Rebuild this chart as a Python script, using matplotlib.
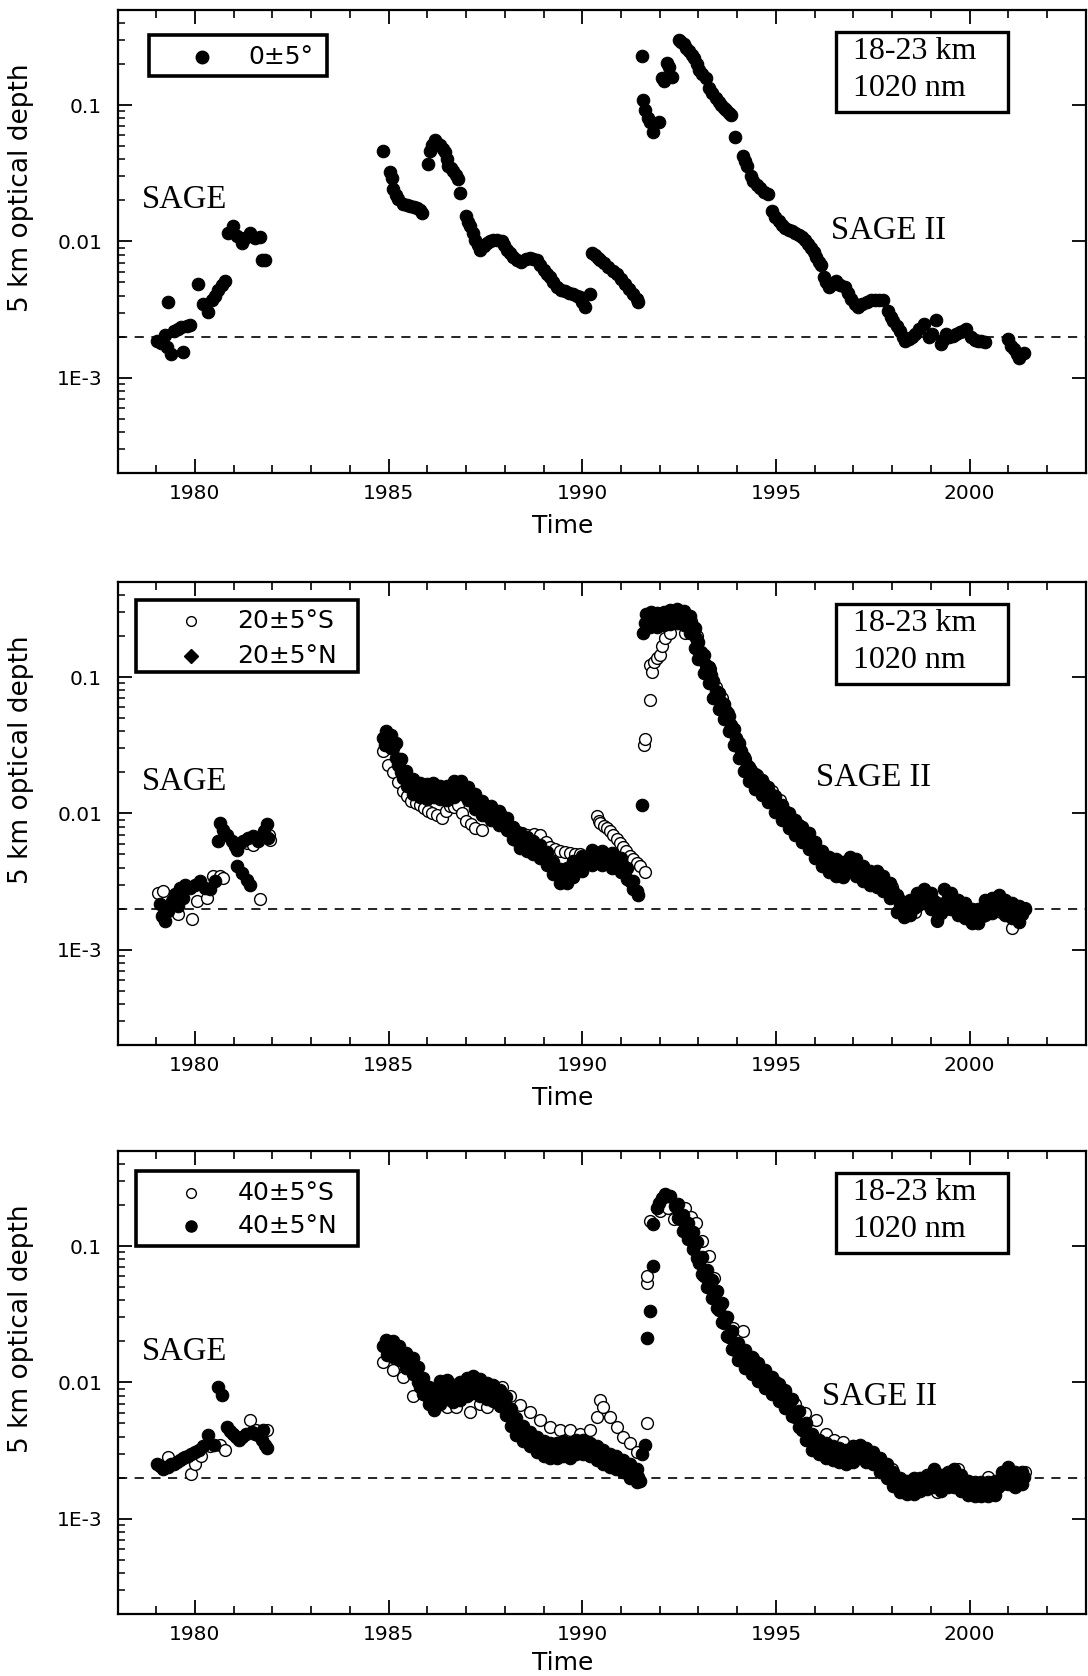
import numpy as np
import matplotlib.pyplot as plt
from matplotlib.patches import Rectangle
from matplotlib.ticker import LogLocator, NullFormatter

# ---------------- data ----------------
# Panel 1 : 0+-5 deg
eq_year = [
    1979.01, 1979.12, 1979.22, 1979.28, 1979.31, 1979.38, 1979.45, 1979.55, 1979.63, 1979.70,
    1979.80, 1979.87, 1980.09, 1980.22, 1980.34, 1980.43, 1980.52, 1980.60, 1980.69, 1980.78,
    1980.86, 1980.99, 1981.08, 1981.21, 1981.29, 1981.42, 1981.55, 1981.68, 1981.72, 1981.81,
    1984.86, 1985.03, 1985.08, 1985.12, 1985.18, 1985.25, 1985.38, 1985.48, 1985.55, 1985.65,
    1985.72, 1985.80, 1985.85, 1986.02, 1986.08, 1986.11, 1986.20, 1986.26, 1986.32, 1986.40,
    1986.45, 1986.50, 1986.54, 1986.62, 1986.67, 1986.74, 1986.80, 1986.84, 1987.01, 1987.05,
    1987.10, 1987.17, 1987.23, 1987.30, 1987.36, 1987.45, 1987.53, 1987.62, 1987.70, 1987.80,
    1987.92, 1987.98, 1988.05, 1988.13, 1988.22, 1988.32, 1988.43, 1988.55, 1988.65, 1988.74,
    1988.82, 1988.91, 1989.00, 1989.08, 1989.17, 1989.25, 1989.34, 1989.45, 1989.55, 1989.66,
    1989.77, 1989.86, 1989.94, 1990.00, 1990.07, 1990.20, 1990.24, 1990.32, 1990.40, 1990.46,
    1990.55, 1990.67, 1990.78, 1990.89, 1991.00, 1991.10, 1991.20, 1991.32, 1991.40, 1991.45,
    1991.53, 1991.57, 1991.62, 1991.70, 1991.75, 1991.83, 1991.97, 1992.05, 1992.10, 1992.18,
    1992.24, 1992.31, 1992.49, 1992.55, 1992.62, 1992.68, 1992.75, 1992.82, 1992.88, 1992.95,
    1993.01, 1993.10, 1993.19, 1993.28, 1993.36, 1993.45, 1993.52, 1993.58, 1993.65, 1993.71,
    1993.78, 1993.84, 1993.93, 1994.15, 1994.20, 1994.24, 1994.35, 1994.41, 1994.50, 1994.59,
    1994.70, 1994.80, 1994.89, 1994.98, 1995.07, 1995.15, 1995.24, 1995.33, 1995.41, 1995.50,
    1995.59, 1995.68, 1995.76, 1995.83, 1995.90, 1995.97, 1996.03, 1996.10, 1996.16, 1996.24,
    1996.30, 1996.38, 1996.47, 1996.55, 1996.66, 1996.77, 1996.86, 1996.94, 1997.03, 1997.12,
    1997.22, 1997.34, 1997.45, 1997.55, 1997.66, 1997.77, 1997.90, 1997.97, 1998.03, 1998.12,
    1998.21, 1998.28, 1998.34, 1998.43, 1998.52, 1998.60, 1998.69, 1998.82, 1998.95, 1999.04,
    1999.13, 1999.26, 1999.32, 1999.39, 1999.48, 1999.56, 1999.65, 1999.74, 1999.83, 1999.91,
    2000.04, 2000.13, 2000.22, 2000.30, 2000.39, 2001.00, 2001.08, 2001.14, 2001.22, 2001.27,
    2001.40,
]
eq_tau = [
    0.00187, 0.00180, 0.00205, 0.00167, 0.0036, 0.00150, 0.00222, 0.00228, 0.00234, 0.00155,
    0.00241, 0.00245, 0.0049, 0.00349, 0.00303, 0.0037, 0.0040, 0.0044, 0.0048, 0.0051,
    0.0115, 0.0129, 0.0109, 0.0097, 0.0106, 0.0115, 0.0106, 0.0108, 0.0073, 0.0073,
    0.0464, 0.0321, 0.0290, 0.0241, 0.0220, 0.0204, 0.0187, 0.0184, 0.0182, 0.0180,
    0.0177, 0.0170, 0.0162, 0.0370, 0.0460, 0.0506, 0.0551, 0.0530, 0.0506, 0.0480,
    0.0452, 0.0400, 0.0360, 0.0345, 0.0330, 0.0305, 0.0286, 0.0228, 0.0153, 0.0140,
    0.0129, 0.0115, 0.0103, 0.0094, 0.0087, 0.0093, 0.0097, 0.0101, 0.0103, 0.0102,
    0.0100, 0.0094, 0.0087, 0.0082, 0.0077, 0.0073, 0.0071, 0.0074, 0.0075, 0.0074,
    0.0073, 0.0067, 0.0062, 0.0058, 0.0055, 0.0050, 0.0046, 0.0044, 0.0043, 0.0042,
    0.0041, 0.0040, 0.0039, 0.0036, 0.0033, 0.0041, 0.0082, 0.0079, 0.0076, 0.0073,
    0.0069, 0.0065, 0.0061, 0.0058, 0.0053, 0.0049, 0.0045, 0.0041, 0.0038, 0.0036,
    0.228, 0.109, 0.092, 0.080, 0.075, 0.0635, 0.075, 0.158, 0.150, 0.204,
    0.190, 0.162, 0.303, 0.290, 0.279, 0.262, 0.248, 0.235, 0.222, 0.200,
    0.182, 0.170, 0.158, 0.133, 0.122, 0.112, 0.106, 0.100, 0.095, 0.092,
    0.088, 0.084, 0.058, 0.0427, 0.0390, 0.036, 0.030, 0.0279, 0.0260, 0.0248,
    0.0232, 0.0222, 0.0167, 0.0150, 0.0141, 0.0132, 0.0126, 0.0122, 0.0119, 0.0115,
    0.0112, 0.0107, 0.0103, 0.0096, 0.0089, 0.0083, 0.0077, 0.0071, 0.0067, 0.0055,
    0.0050, 0.0046, 0.0049, 0.0051, 0.0048, 0.0046, 0.0042, 0.0038, 0.0035, 0.0033,
    0.0035, 0.0036, 0.0037, 0.0037, 0.0037, 0.0037, 0.0031, 0.0028, 0.0026, 0.0024,
    0.0022, 0.0020, 0.00187, 0.00192, 0.00198, 0.0021, 0.00228, 0.00248, 0.00198, 0.0021,
    0.00263, 0.00177, 0.0019, 0.0021, 0.0020, 0.00204, 0.0021, 0.00215, 0.0022, 0.00228,
    0.00198, 0.0019, 0.00187, 0.00185, 0.00182, 0.00192, 0.0017, 0.00162, 0.0015, 0.0014,
    0.00153,
]

# Panel 2 : 20+-5 deg N (filled)
n20_year = [
    1979.10, 1979.14, 1979.23, 1979.31, 1979.40, 1979.48, 1979.57, 1979.61, 1979.70, 1979.74,
    1979.87, 1980.00, 1980.13, 1980.26, 1980.39, 1980.52, 1980.60, 1980.65, 1980.73, 1980.82,
    1980.95, 1981.03, 1981.08, 1981.08, 1981.21, 1981.34, 1981.42, 1981.25, 1981.38, 1981.51,
    1981.64, 1981.77, 1981.85, 1981.89,
    # SAGE II 1984-1991, centre of band
    1984.86, 1984.99, 1985.12, 1985.25, 1985.38, 1985.55, 1985.72, 1985.89, 1986.07, 1986.24,
    1986.41, 1986.58, 1986.80, 1986.97, 1987.14, 1987.31, 1987.53, 1987.74, 1987.96, 1988.13,
    1988.30, 1988.48, 1988.65, 1988.82, 1988.99, 1989.17, 1989.34, 1989.51, 1989.68, 1989.85,
    1990.11, 1990.37, 1990.63, 1990.89, 1991.10, 1991.23, 1991.40,
    # upper edge
    1984.92, 1985.05, 1985.18, 1985.31, 1985.46, 1985.63, 1985.80, 1985.98, 1986.15, 1986.32,
    1986.50, 1986.68, 1986.88, 1987.05, 1987.22, 1987.42, 1987.63, 1987.85, 1988.05, 1988.22,
    1988.40, 1988.56, 1988.74, 1988.90, 1989.08, 1989.25, 1989.42, 1989.60, 1989.77, 1989.98,
    1990.24, 1990.50, 1990.76, 1991.00, 1991.16, 1991.32,
    # lower edge
    1984.90, 1985.06, 1985.20, 1985.33, 1985.47, 1985.64, 1985.81, 1985.98, 1986.16, 1986.33,
    1986.50, 1986.69, 1986.89, 1987.06, 1987.23, 1987.42, 1987.64, 1987.85, 1988.05, 1988.22,
    1988.40, 1988.57, 1988.74, 1988.91, 1989.08, 1989.25, 1989.42, 1989.60, 1989.77, 1989.98,
    1990.24, 1990.50, 1990.76, 1991.00, 1991.16, 1991.32, 1991.45,
    1991.55,
    # after Pinatubo, centre
    1991.57, 1991.63, 1991.70, 1991.83, 1992.01, 1992.18, 1992.36, 1992.53, 1992.71, 1992.84,
    1992.93, 1993.06, 1993.19, 1993.32, 1993.45, 1993.58, 1993.71, 1993.84, 1993.97, 1994.10,
    1994.24, 1994.37, 1994.54, 1994.72, 1994.89, 1995.07, 1995.24, 1995.41, 1995.59, 1995.76,
    1995.94, 1996.11, 1996.29, 1996.46, 1996.64, 1996.81, 1996.99, 1997.16, 1997.34, 1997.51,
    1997.69, 1997.86, 1998.03, 1998.21, 1998.38, 1998.56, 1998.73, 1998.91, 1999.08, 1999.26,
    1999.43, 1999.61, 1999.78, 1999.96, 2000.13, 2000.31, 2000.48, 2000.66, 2000.83, 2001.00,
    2001.18, 2001.35,
    # upper edge
    1991.65, 1991.78, 1991.92, 1992.10, 1992.27, 1992.45, 1992.62, 1992.78, 1992.90, 1993.00,
    1993.13, 1993.26, 1993.38, 1993.52, 1993.65, 1993.78, 1993.91, 1994.04, 1994.17, 1994.30,
    1994.46, 1994.63, 1994.80, 1994.98, 1995.15, 1995.33, 1995.50, 1995.68, 1995.85, 1996.02,
    1996.20, 1996.38, 1996.55, 1996.72, 1996.90, 1997.07, 1997.25, 1997.42, 1997.60, 1997.77,
    1997.95, 1998.12, 1998.30, 1998.47, 1998.65, 1998.82, 1999.00, 1999.17, 1999.35, 1999.52,
    1999.70, 1999.87, 2000.05, 2000.22, 2000.40, 2000.57, 2000.75, 2000.92, 2001.10, 2001.27,
    2001.42,
    # lower edge
    1991.75, 1991.92, 1992.10, 1992.27, 1992.45, 1992.62, 1992.78, 1992.90, 1993.00, 1993.13,
    1993.26, 1993.38, 1993.52, 1993.65, 1993.78, 1993.91, 1994.04, 1994.17, 1994.30, 1994.46,
    1994.63, 1994.80, 1994.98, 1995.15, 1995.33, 1995.50, 1995.68, 1995.85, 1996.02, 1996.20,
    1996.38, 1996.55, 1996.72, 1996.90, 1997.07, 1997.25, 1997.42, 1997.60, 1997.77, 1997.95,
    1998.12, 1998.30, 1998.47, 1998.65, 1998.82, 1999.00, 1999.17, 1999.35, 1999.52, 1999.70,
    1999.87, 2000.05, 2000.22, 2000.40, 2000.57, 2000.75, 2000.92, 2001.10, 2001.27,
]
n20_tau = [
    0.00215, 0.00177, 0.00162, 0.00192, 0.00227, 0.00255, 0.0021, 0.00285, 0.0024, 0.00301,
    0.00285, 0.00301, 0.00319, 0.00285, 0.00277, 0.00319, 0.00625, 0.00853, 0.00762, 0.0070,
    0.00625, 0.00575, 0.00543, 0.0041, 0.00366, 0.00327, 0.00301, 0.00625, 0.0066, 0.0068,
    0.00625, 0.0074, 0.0083, 0.0066,
    0.0357, 0.0338, 0.0302, 0.0228, 0.0182, 0.0158, 0.0149, 0.0145, 0.0149, 0.0145,
    0.0141, 0.0149, 0.0158, 0.0145, 0.0123, 0.0110, 0.0101, 0.0093, 0.0085, 0.0074,
    0.0064, 0.0061, 0.0057, 0.0054, 0.0050, 0.0042, 0.0036, 0.0034, 0.0038, 0.0041,
    0.0045, 0.0048, 0.0047, 0.0045, 0.0040, 0.0032, 0.0027,
    0.0400, 0.0375, 0.0330, 0.0250, 0.0205, 0.0178, 0.0168, 0.0165, 0.0166, 0.0160,
    0.0160, 0.0172, 0.0172, 0.0156, 0.0138, 0.0124, 0.0113, 0.0104, 0.0093, 0.0080,
    0.0072, 0.0067, 0.0063, 0.0059, 0.0052, 0.0044, 0.0039, 0.0040, 0.0045, 0.0049,
    0.0054, 0.0053, 0.0051, 0.0047, 0.0040, 0.0032,
    0.0318, 0.0300, 0.0255, 0.0200, 0.0160, 0.0140, 0.0132, 0.0128, 0.0132, 0.0128,
    0.0125, 0.0132, 0.0138, 0.0126, 0.0107, 0.0097, 0.0089, 0.0082, 0.0075, 0.0065,
    0.0056, 0.0053, 0.0050, 0.0047, 0.0042, 0.0036, 0.0031, 0.0031, 0.0034, 0.0038,
    0.0042, 0.0042, 0.0040, 0.0037, 0.0033, 0.0028, 0.0025,
    0.0116,
    0.21, 0.25, 0.27, 0.263, 0.27, 0.278, 0.278, 0.286, 0.27, 0.242,
    0.193, 0.154, 0.123, 0.104, 0.0785, 0.066, 0.056, 0.0448, 0.0357, 0.0286,
    0.0228, 0.0193, 0.0172, 0.0154, 0.0137, 0.0116, 0.0101, 0.0088, 0.0078, 0.0070,
    0.0063, 0.0053, 0.0046, 0.0042, 0.0040, 0.0039, 0.0043, 0.0040, 0.0036, 0.0034,
    0.0033, 0.0031, 0.0027, 0.00215, 0.00198, 0.00203, 0.00234, 0.00247, 0.00227, 0.00187,
    0.00255, 0.00227, 0.00203, 0.00192, 0.00177, 0.00177, 0.00203, 0.00209, 0.00227, 0.00203,
    0.00192, 0.00182,
    0.29, 0.30, 0.295, 0.30, 0.31, 0.315, 0.305, 0.28, 0.23, 0.18,
    0.145, 0.118, 0.093, 0.076, 0.064, 0.052, 0.042, 0.033, 0.026, 0.022,
    0.0195, 0.0175, 0.0156, 0.0134, 0.0116, 0.0100, 0.0089, 0.0080, 0.0072, 0.0062,
    0.0053, 0.0048, 0.0046, 0.0044, 0.0048, 0.0046, 0.0041, 0.0038, 0.0038, 0.0035,
    0.0031, 0.0025, 0.0022, 0.0023, 0.0026, 0.0028, 0.0026, 0.0022, 0.0028, 0.0026,
    0.0023, 0.0022, 0.0020, 0.0020, 0.0023, 0.0024, 0.0025, 0.0023, 0.0022, 0.0021,
    0.0020,
    0.235, 0.235, 0.24, 0.245, 0.25, 0.24, 0.21, 0.165, 0.135, 0.108,
    0.090, 0.070, 0.058, 0.049, 0.040, 0.032, 0.0255, 0.0205, 0.0172, 0.0152,
    0.0136, 0.0121, 0.0103, 0.0089, 0.0078, 0.0069, 0.0062, 0.0055, 0.0047, 0.0041,
    0.0037, 0.0035, 0.0034, 0.0038, 0.0035, 0.0032, 0.0030, 0.0029, 0.0027, 0.0024,
    0.0019, 0.00175, 0.0018, 0.0021, 0.0022, 0.0020, 0.00165, 0.0022, 0.0020, 0.0018,
    0.0017, 0.00157, 0.00157, 0.0018, 0.00185, 0.0020, 0.0018, 0.0017, 0.0016,
]

# Panel 2 : 20+-5 deg S (open)
s20_year = [
    1979.05, 1979.18, 1979.40, 1979.57, 1979.92, 1980.04, 1980.30, 1980.47, 1980.65, 1980.73,
    1981.34, 1981.51, 1981.68, 1981.90, 1981.94,
    1984.86, 1984.92, 1984.99, 1985.10, 1985.25, 1985.38, 1985.48, 1985.59, 1985.70, 1985.81,
    1985.92, 1986.02, 1986.13, 1986.24, 1986.37, 1986.48, 1986.58, 1986.70, 1986.80, 1986.90,
    1987.01, 1987.12, 1987.23, 1987.40, 1987.55, 1987.70, 1987.87, 1988.00, 1988.15, 1988.30,
    1988.45, 1988.56, 1988.75, 1988.91, 1989.05, 1989.17, 1989.30, 1989.42, 1989.55, 1989.68,
    1989.80, 1989.94, 1990.05, 1990.37, 1990.42, 1990.46, 1990.55, 1990.63, 1990.72, 1990.80,
    1990.89, 1990.97, 1991.06, 1991.14, 1991.23, 1991.32, 1991.40, 1991.49, 1991.62,
    1991.60, 1991.62, 1991.75, 1991.75, 1991.80, 1991.85, 1991.92, 1992.01, 1992.07, 1992.14,
    1992.27, 1992.40, 1992.53, 1992.66,
    1992.80, 1992.95, 1993.10, 1993.30, 1993.45, 1993.60, 1993.75, 1993.90, 1994.05, 1994.20,
    1994.35, 1994.50, 1994.70, 1994.90, 1995.10, 1995.24, 1995.40, 1995.60, 1995.80, 1996.00,
    1996.20, 1996.40, 1996.60, 1996.80, 1997.00, 1997.20, 1997.40, 1997.60, 1997.80, 1998.00,
    1998.20, 1998.40, 1998.60, 1998.80, 1999.00, 1999.17, 1999.40, 1999.60, 1999.80, 2000.00,
    2000.22, 2000.40, 2000.60, 2000.80, 2001.09, 2001.25, 2001.44,
]
s20_tau = [
    0.00262, 0.00269, 0.0020, 0.00182, 0.00167, 0.00227, 0.0024, 0.00347, 0.00347, 0.00337,
    0.0061, 0.0059, 0.00234, 0.0070, 0.0064,
    0.0285, 0.0320, 0.0228, 0.0200, 0.0170, 0.0145, 0.0135, 0.0123, 0.0120, 0.0116,
    0.0110, 0.0104, 0.0100, 0.0098, 0.0093, 0.0105, 0.0113, 0.0112, 0.0116, 0.0100,
    0.0088, 0.0083, 0.0078, 0.0076, 0.0095, 0.0107, 0.0101, 0.0090, 0.0080, 0.0074,
    0.0072, 0.0070, 0.0071, 0.0070, 0.0062, 0.0057, 0.0055, 0.0053, 0.0052, 0.0051,
    0.0050, 0.0050, 0.0048, 0.0095, 0.0088, 0.0085, 0.0081, 0.0078, 0.0074, 0.0070,
    0.0065, 0.0061, 0.0057, 0.0053, 0.0049, 0.0046, 0.0043, 0.0041, 0.0037,
    0.032, 0.035, 0.068, 0.123, 0.110, 0.130, 0.138, 0.146, 0.170, 0.193,
    0.21, 0.26, 0.295, 0.21,
    0.26, 0.20, 0.14, 0.115, 0.085, 0.070, 0.055, 0.040, 0.032, 0.025,
    0.021, 0.019, 0.0165, 0.0145, 0.0125, 0.0105, 0.0093, 0.0082, 0.0072, 0.0061,
    0.0052, 0.0046, 0.0043, 0.0041, 0.0040, 0.0038, 0.0036, 0.0034, 0.0032, 0.0029,
    0.0023, 0.0020, 0.0019, 0.0023, 0.0021, 0.00162, 0.0020, 0.0021, 0.0019, 0.0018,
    0.00162, 0.0019, 0.0020, 0.0019, 0.00145, 0.0018, 0.00203,
]

# Panel 3 : 40+-5 deg N (filled)
n40_year = [
    1979.02, 1979.10, 1979.17, 1979.24, 1979.31, 1979.39, 1979.46, 1979.54, 1979.61, 1979.68,
    1979.75, 1979.83, 1979.90, 1980.00, 1980.10, 1980.20, 1980.34, 1980.49, 1980.59, 1980.69,
    1980.83, 1980.90, 1980.98, 1981.05, 1981.13, 1981.22, 1981.32, 1981.47, 1981.55, 1981.62,
    1981.72, 1981.76, 1981.80, 1981.86,
    # SAGE II 1984-1991, centre
    1984.86, 1985.03, 1985.21, 1985.38, 1985.55, 1985.68, 1985.81, 1985.98, 1986.11, 1986.24,
    1986.41, 1986.58, 1986.75, 1986.93, 1987.10, 1987.27, 1987.44, 1987.62, 1987.79, 1987.96,
    1988.09, 1988.22, 1988.39, 1988.56, 1988.73, 1988.91, 1989.08, 1989.25, 1989.42, 1989.60,
    1989.77, 1989.94, 1990.11, 1990.28, 1990.46, 1990.63, 1990.80, 1990.97, 1991.14, 1991.32,
    1991.45, 1991.55, 1991.62,
    # upper edge
    1984.92, 1985.10, 1985.28, 1985.45, 1985.62, 1985.75, 1985.90, 1986.05, 1986.18, 1986.33,
    1986.50, 1986.66, 1986.84, 1987.02, 1987.18, 1987.36, 1987.53, 1987.70, 1987.88, 1988.02,
    1988.15, 1988.30, 1988.48, 1988.65, 1988.82, 1989.00, 1989.17, 1989.34, 1989.51, 1989.68,
    1989.85, 1990.02, 1990.20, 1990.37, 1990.54, 1990.71, 1990.88, 1991.05, 1991.23, 1991.40,
    # lower edge
    1984.95, 1985.12, 1985.30, 1985.46, 1985.62, 1985.76, 1985.90, 1986.05, 1986.18, 1986.33,
    1986.50, 1986.66, 1986.84, 1987.02, 1987.18, 1987.36, 1987.53, 1987.70, 1987.88, 1988.02,
    1988.15, 1988.30, 1988.48, 1988.65, 1988.82, 1989.00, 1989.17, 1989.34, 1989.51, 1989.68,
    1989.85, 1990.02, 1990.20, 1990.37, 1990.54, 1990.71, 1990.88, 1991.05, 1991.23, 1991.40,
    1991.50,
    # after Pinatubo, centre
    1991.66, 1991.75, 1991.83, 1991.83, 1991.92, 1991.97, 1992.05, 1992.14, 1992.27, 1992.40,
    1992.53, 1992.66, 1992.79, 1992.88, 1993.01, 1993.14, 1993.28, 1993.41, 1993.54, 1993.67,
    1993.80, 1993.93, 1994.10, 1994.28, 1994.45, 1994.63, 1994.80, 1994.98, 1995.15, 1995.33,
    1995.50, 1995.68, 1995.85, 1996.03, 1996.20, 1996.38, 1996.55, 1996.72, 1996.90, 1997.07,
    1997.25, 1997.42, 1997.60, 1997.77, 1997.95, 1998.12, 1998.30, 1998.47, 1998.65, 1998.82,
    1999.00, 1999.17, 1999.34, 1999.52, 1999.69, 1999.87, 2000.04, 2000.22, 2000.39, 2000.57,
    2000.74, 2000.92, 2001.09, 2001.27, 2001.40,
    # upper edge
    1992.47, 1992.60, 1992.73, 1992.85, 1992.95, 1993.08, 1993.21, 1993.35, 1993.48, 1993.61,
    1993.74, 1993.87, 1994.02, 1994.19, 1994.37, 1994.54, 1994.72, 1994.89, 1995.07, 1995.24,
    1995.42, 1995.59, 1995.77, 1995.94, 1996.12, 1996.29, 1996.47, 1996.64, 1996.81, 1996.98,
    1997.16, 1997.33, 1997.51, 1997.68, 1997.86, 1998.03, 1998.21, 1998.38, 1998.56, 1998.73,
    1998.91, 1999.08, 1999.26, 1999.43, 1999.60, 1999.78, 1999.96, 2000.13, 2000.30, 2000.48,
    2000.65, 2000.83, 2001.00, 2001.18, 2001.34,
    # lower edge
    1992.47, 1992.60, 1992.73, 1992.85, 1992.95, 1993.08, 1993.21, 1993.35, 1993.48, 1993.61,
    1993.74, 1993.87, 1994.02, 1994.19, 1994.37, 1994.54, 1994.72, 1994.89, 1995.07, 1995.24,
    1995.42, 1995.59, 1995.77, 1995.94, 1996.12, 1996.29, 1996.47, 1996.64, 1996.81, 1996.98,
    1997.16, 1997.33, 1997.51, 1997.68, 1997.86, 1998.03, 1998.21, 1998.38, 1998.56, 1998.73,
    1998.91, 1999.08, 1999.26, 1999.43, 1999.60, 1999.78, 1999.96, 2000.13, 2000.30, 2000.48,
    2000.65, 2000.83, 2001.00, 2001.18, 2001.34,
]
n40_tau = [
    0.00254, 0.00245, 0.00233, 0.0024, 0.0024, 0.0025, 0.00254, 0.0026, 0.00269, 0.0028,
    0.00284, 0.0029, 0.0030, 0.0031, 0.00318, 0.0034, 0.0041, 0.00347, 0.0093, 0.0081,
    0.0047, 0.0044, 0.0042, 0.0040, 0.0038, 0.0040, 0.0042, 0.0043, 0.0042, 0.0041,
    0.0038, 0.0045, 0.0035, 0.0033,
    0.0184, 0.0179, 0.0169, 0.0146, 0.0135, 0.0117, 0.0093, 0.0079, 0.0070, 0.0079,
    0.0093, 0.0083, 0.0081, 0.0088, 0.0096, 0.0099, 0.0091, 0.0086, 0.0083, 0.0074,
    0.0063, 0.0050, 0.0045, 0.0041, 0.00377, 0.00347, 0.00327, 0.00318, 0.00318, 0.00327,
    0.00318, 0.00347, 0.00337, 0.00318, 0.0030, 0.00284, 0.00269, 0.00254, 0.0024, 0.0022,
    0.00203, 0.0030, 0.0035,
    0.0205, 0.0200, 0.0186, 0.0165, 0.0150, 0.0130, 0.0108, 0.0092, 0.0088, 0.0102,
    0.0105, 0.0096, 0.0100, 0.0108, 0.0112, 0.0106, 0.0099, 0.0095, 0.0088, 0.0078,
    0.0064, 0.0055, 0.0048, 0.0043, 0.0040, 0.0037, 0.0036, 0.0036, 0.0037, 0.0036,
    0.0038, 0.0038, 0.0036, 0.0034, 0.0032, 0.0030, 0.0029, 0.0027, 0.0025, 0.0023,
    0.0160, 0.0155, 0.0145, 0.0128, 0.0115, 0.0100, 0.0082, 0.0070, 0.0063, 0.0070,
    0.0076, 0.0072, 0.0074, 0.0080, 0.0083, 0.0080, 0.0076, 0.0073, 0.0067, 0.0058,
    0.0048, 0.0041, 0.0037, 0.0034, 0.0031, 0.0029, 0.0028, 0.0028, 0.0029, 0.0028,
    0.0030, 0.0030, 0.0029, 0.0027, 0.0025, 0.0024, 0.0023, 0.0022, 0.0020, 0.00185,
    0.0019,
    0.0211, 0.0333, 0.0713, 0.145, 0.19, 0.208, 0.225, 0.240, 0.233, 0.197,
    0.157, 0.136, 0.119, 0.100, 0.0755, 0.060, 0.0508, 0.0429, 0.0342, 0.0273,
    0.0217, 0.0173, 0.0155, 0.0138, 0.0124, 0.0110, 0.0099, 0.0088, 0.0079, 0.0068,
    0.0056, 0.0045, 0.00377, 0.00347, 0.00327, 0.0031, 0.0030, 0.00284, 0.00277, 0.00318,
    0.0031, 0.00292, 0.00269, 0.0024, 0.00214, 0.00191, 0.00176, 0.00171, 0.00176, 0.00181,
    0.00191, 0.00203, 0.00181, 0.00197, 0.00203, 0.00181, 0.00171, 0.00166, 0.00166, 0.00166,
    0.00171, 0.00214, 0.00203, 0.00197, 0.00203,
    0.205, 0.170, 0.148, 0.128, 0.108, 0.083, 0.067, 0.056, 0.047, 0.038,
    0.030, 0.024, 0.0195, 0.0172, 0.0155, 0.0138, 0.0123, 0.0110, 0.0098, 0.0087,
    0.0075, 0.0062, 0.0050, 0.0042, 0.0038, 0.0036, 0.0034, 0.0033, 0.0032, 0.0034,
    0.0035, 0.0033, 0.0031, 0.0028, 0.0025, 0.0022, 0.0020, 0.0019, 0.0020, 0.0020,
    0.0021, 0.0023, 0.0021, 0.0022, 0.0023, 0.0021, 0.0019, 0.00186, 0.00186, 0.00186,
    0.0019, 0.0022, 0.0024, 0.0022, 0.0022,
    0.160, 0.130, 0.112, 0.095, 0.082, 0.062, 0.050, 0.042, 0.035, 0.028,
    0.022, 0.0175, 0.0145, 0.0128, 0.0115, 0.0102, 0.0091, 0.0082, 0.0073, 0.0065,
    0.0057, 0.0047, 0.0038, 0.0032, 0.0030, 0.0028, 0.0027, 0.0026, 0.0025, 0.0026,
    0.0028, 0.0026, 0.0025, 0.0022, 0.0020, 0.00175, 0.00158, 0.00152, 0.00153, 0.0016,
    0.00165, 0.0017, 0.0016, 0.0017, 0.0017, 0.0016, 0.0015, 0.00148, 0.00148, 0.00148,
    0.0015, 0.0018, 0.0018, 0.0017, 0.0018,
]

# Panel 3 : 40+-5 deg S (open)
s40_year = [
    1979.31, 1979.90, 1980.00, 1980.15, 1980.39, 1980.64, 1980.78, 1980.98, 1981.42, 1981.57,
    1981.86,
    1984.86, 1985.12, 1985.38, 1985.64, 1986.50, 1986.75, 1987.10, 1987.36, 1987.53, 1987.92,
    1988.13, 1988.39, 1988.65, 1988.91, 1989.17, 1989.42, 1989.68, 1989.94, 1990.20, 1990.37,
    1990.46, 1990.54, 1990.71, 1990.89, 1991.06, 1991.23, 1991.40, 1991.66,
    1991.66, 1991.66, 1991.75, 1992.01, 1992.20, 1992.36, 1992.50, 1992.66, 1992.80, 1992.93,
    1993.10, 1993.28, 1993.40, 1993.54, 1993.70, 1993.90, 1994.15, 1994.40, 1994.60, 1994.80,
    1995.00, 1995.24, 1995.50, 1995.75, 1996.03, 1996.30, 1996.50, 1996.72, 1997.00, 1997.25,
    1997.50, 1997.75, 1998.00, 1998.25, 1998.50, 1998.75, 1999.00, 1999.17, 1999.45, 1999.69,
    1999.95, 2000.20, 2000.48, 2000.75, 2001.00, 2001.25, 2001.44,
]
s40_tau = [
    0.00284, 0.00214, 0.00254, 0.0029, 0.0034, 0.00347, 0.00318, 0.0042, 0.0053, 0.0045,
    0.0045,
    0.0142, 0.0124, 0.0110, 0.0079, 0.0066, 0.0066, 0.0061, 0.0070, 0.0066, 0.0093,
    0.0079, 0.0068, 0.0061, 0.0053, 0.0047, 0.0045, 0.0045, 0.0042, 0.0045, 0.0056,
    0.0074, 0.0066, 0.0056, 0.0047, 0.0040, 0.0036, 0.0031, 0.0050,
    0.0537, 0.060, 0.153, 0.181, 0.190, 0.157, 0.185, 0.192, 0.165, 0.149,
    0.110, 0.0846, 0.058, 0.0362, 0.030, 0.025, 0.0237, 0.0150, 0.0125, 0.0112,
    0.0100, 0.0088, 0.0070, 0.0060, 0.0053, 0.0042, 0.0038, 0.00366, 0.0034, 0.0033,
    0.0030, 0.0026, 0.0023, 0.0019, 0.00185, 0.0019, 0.0019, 0.00157, 0.0020, 0.00233,
    0.0019, 0.0018, 0.00203, 0.0018, 0.0019, 0.0020, 0.0022,
]

background_tau = 0.002
year_ticks = [1980, 1985, 1990, 1995, 2000]
tau_ticks = [1e-3, 1e-2, 1e-1]
tau_labels = ["1E-3", "0.01", "0.1"]

# ---------------- figure ----------------
fig = plt.figure(figsize=(10.88, 16.76), dpi=100)
bottoms = [0.7178, 0.3765, 0.0370]
axes = [fig.add_axes([0.108, b, 0.890, 0.2763]) for b in bottoms]

serif = "Liberation Serif"
FILLED = dict(ls="none", marker="o", ms=9, mfc="black", mec="black", mew=0.8)
OPEN = dict(ls="none", marker="o", ms=8.5, mfc="white", mec="black", mew=1.0)


def style_axis(ax, time_y):
    ax.set_xlim(1978, 2003)
    ax.set_yscale("log")
    ax.set_ylim(2e-4, 0.5)
    ax.set_xticks(year_ticks)
    ax.set_xticks(np.arange(1978, 2004), minor=True)
    ax.set_yticks(tau_ticks)
    ax.set_yticklabels(tau_labels)
    ax.yaxis.set_minor_locator(LogLocator(base=10, subs=np.arange(2, 10)))
    ax.yaxis.set_minor_formatter(NullFormatter())
    ax.tick_params(axis="x", which="both", direction="in", top=True, bottom=True)
    ax.tick_params(axis="x", which="major", length=10, width=1.3, pad=8, labelsize=14.5)
    ax.tick_params(axis="x", which="minor", length=6, width=1.2)
    ax.tick_params(axis="y", which="major", direction="in", left=True, right=True,
                   length=10, width=1.3, pad=11, labelsize=14.5)
    ax.tick_params(axis="y", which="minor", direction="in", left=True, right=False,
                   length=5, width=1.1)
    for sp in ax.spines.values():
        sp.set_linewidth(1.6)
    ax.axhline(background_tau, color="black", lw=1.2, ls=(0, (5.5, 4.5)), zorder=1)
    ax.set_xlabel("Time", fontsize=18)
    ax.xaxis.set_label_coords(0.46, time_y)
    ax.set_ylabel("5 km optical depth", fontsize=19)
    ax.yaxis.set_label_coords(-0.086, 0.616)


def info_box(ax, sage_xy, sage2_xy):
    ax.add_patch(Rectangle((0.742, 0.780), 0.178, 0.172, transform=ax.transAxes,
                           fill=False, lw=2.4, ec="black", zorder=5))
    ax.text(0.760, 0.910, "18-23 km", transform=ax.transAxes, fontsize=23,
            family=serif, va="center", ha="left")
    ax.text(0.760, 0.831, "1020 nm", transform=ax.transAxes, fontsize=23,
            family=serif, va="center", ha="left")
    ax.text(sage_xy[0], sage_xy[1], "SAGE", transform=ax.transAxes, fontsize=23.5,
            family=serif, va="center", ha="left")
    ax.text(sage2_xy[0], sage2_xy[1], "SAGE II", transform=ax.transAxes, fontsize=23.5,
            family=serif, va="center", ha="left")


def key_box(ax, box, rows):
    x0, y0, x1, y1 = box
    ax.add_patch(Rectangle((x0, y0), x1 - x0, y1 - y0, transform=ax.transAxes,
                           fill=False, lw=2.6, ec="black", zorder=5))
    for mx, tx, y, label, mstyle in rows:
        ax.plot([mx], [y], transform=ax.transAxes, clip_on=False, **mstyle)
        ax.text(tx, y, label, transform=ax.transAxes, fontsize=18, va="center", ha="left")


# panel 1
ax = axes[0]
style_axis(ax, -0.088)
ax.plot(eq_year, eq_tau, zorder=3, **FILLED)
info_box(ax, (0.0253, 0.590), (0.737, 0.523))
key_box(ax, (0.0325, 0.8575, 0.2163, 0.946),
        [(0.0873, 0.1347, 0.8985, "0±5°", dict(ls="none", marker="o", ms=9, mfc="black", mec="black"))])

# panel 2
ax = axes[1]
style_axis(ax, -0.088)
ax.plot(s20_year, s20_tau, zorder=2, **OPEN)
ax.plot(n20_year, n20_tau, zorder=3, **FILLED)
info_box(ax, (0.0253, 0.569), (0.721, 0.578))
key_box(ax, (0.0191, 0.805, 0.2485, 0.960),
        [(0.0756, 0.124, 0.9158, "20±5°S", dict(ls="none", marker="o", ms=7, mfc="white", mec="black", mew=1.0)),
         (0.0756, 0.124, 0.8400, "20±5°N", dict(ls="none", marker="D", ms=7, mfc="black", mec="black"))])

# panel 3
ax = axes[2]
style_axis(ax, -0.080)
ax.plot(s40_year, s40_tau, zorder=2, **OPEN)
ax.plot(n40_year, n40_tau, zorder=3, **FILLED)
info_box(ax, (0.0253, 0.567), (0.728, 0.470))
key_box(ax, (0.0191, 0.795, 0.2485, 0.957),
        [(0.0756, 0.124, 0.910, "40±5°S", dict(ls="none", marker="o", ms=7, mfc="white", mec="black", mew=1.0)),
         (0.0756, 0.124, 0.838, "40±5°N", dict(ls="none", marker="o", ms=8, mfc="black", mec="black"))])

fig.savefig("out.png", dpi=100)
